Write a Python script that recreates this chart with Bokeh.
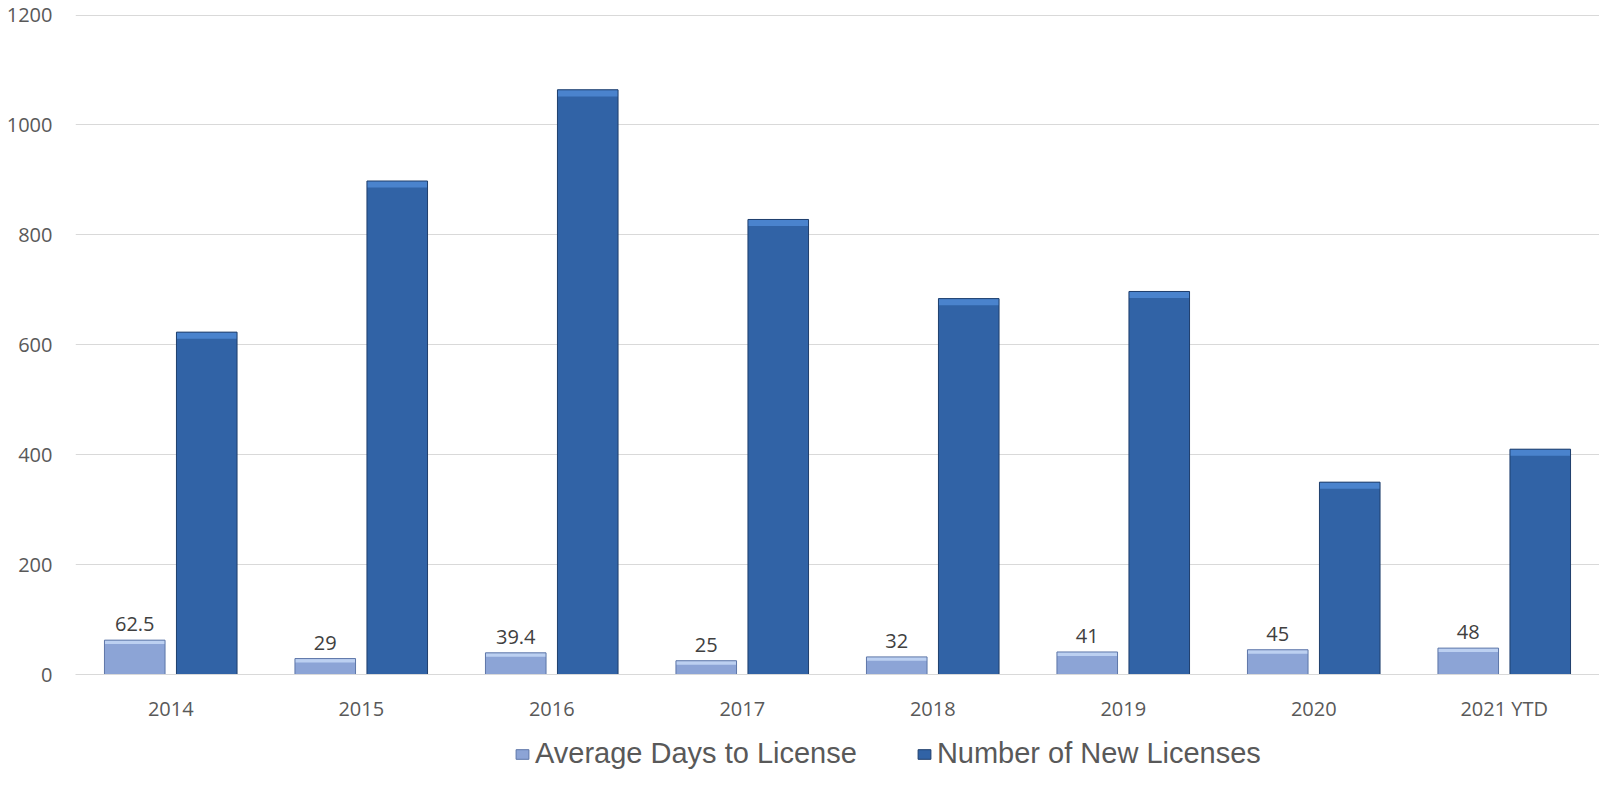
from bokeh.plotting import figure
from bokeh.models import ColumnDataSource, FactorRange, Legend, LegendItem
from bokeh.layouts import column
from bokeh.transform import dodge
from bokeh.embed import file_html
from bokeh.resources import INLINE
from bokeh.core.properties import value

categories = ["2014", "2015", "2016", "2017", "2018", "2019", "2020", "2021 YTD"]
avg_days = [62.5, 29, 39.4, 25, 32, 41, 45, 48]
new_licenses = [623, 898, 1064, 828, 684, 697, 350, 410]
avg_labels = ["62.5", "29", "39.4", "25", "32", "41", "45", "48"]

BEVEL = 12  # bevel highlight height in data units

AVG_FILL, AVG_TOP, AVG_LINE = "#8ca4d6", "#bcd0f1", "#5d76a8"
NEW_FILL, NEW_TOP, NEW_LINE = "#3163a6", "#4a83cd", "#1e3e6c"

src = ColumnDataSource(dict(
    cat=categories,
    avg=avg_days,
    new=new_licenses,
    lab=avg_labels,
    avg_b=[max(v - BEVEL * 0.6, 0) for v in avg_days],
    new_b=[v - BEVEL for v in new_licenses],
))

p = figure(x_range=FactorRange(*categories), y_range=(0, 1201),
           width=1599, height=729, output_backend="svg", toolbar_location=None,
           min_border_left=75, min_border_right=0, min_border_top=14, min_border_bottom=55)

w = 0.318
off = 0.189
xa = dodge("cat", -off, range=p.x_range)
xn = dodge("cat", off, range=p.x_range)
p.vbar(x=xa, top="avg", width=w, source=src, fill_color=AVG_FILL, line_color=None)
p.vbar(x=xa, top="avg", bottom="avg_b", width=w, source=src, fill_color=AVG_TOP, line_color=None)
p.vbar(x=xa, top="avg", width=w, source=src, fill_color=None, line_color=AVG_LINE, line_width=1)
p.vbar(x=xn, top="new", width=w, source=src, fill_color=NEW_FILL, line_color=None)
p.vbar(x=xn, top="new", bottom="new_b", width=w, source=src, fill_color=NEW_TOP, line_color=None)
p.vbar(x=xn, top="new", width=w, source=src, fill_color=None, line_color=NEW_LINE, line_width=1)

p.text(x=xa, y="avg", text="lab", source=src,
       text_align="center", text_baseline="alphabetic", y_offset=-16,
       text_font=value("Open Sans"), text_font_size="20px", text_color="#404040")

p.outline_line_color = None
p.xgrid.grid_line_color = None
p.ygrid.grid_line_color = "#d9d9d9"
p.ygrid.grid_line_width = 1
p.yaxis.ticker = [0, 200, 400, 600, 800, 1000, 1200]
p.yaxis.axis_line_color = None
p.yaxis.major_tick_line_color = None
p.yaxis.minor_tick_line_color = None
p.yaxis.major_tick_out = 0
p.yaxis.major_label_text_font = "Open Sans"
p.yaxis.major_label_text_font_size = "20px"
p.yaxis.major_label_text_color = "#595959"
p.yaxis.major_label_standoff = 23
p.xaxis.axis_line_color = "#d9d9d9"
p.xaxis.major_tick_line_color = None
p.xaxis.minor_tick_line_color = None
p.xaxis.major_tick_out = 0
p.xaxis.major_label_text_font = "Open Sans"
p.xaxis.major_label_text_font_size = "20px"
p.xaxis.major_label_text_color = "#595959"
p.xaxis.major_label_standoff = 20
p.x_range.range_padding = 0
p.x_range.group_padding = 0

# legend panel
lf = figure(width=1599, height=41, output_backend="svg", toolbar_location=None,
            x_axis_type=None, y_axis_type=None, min_border=0,
            x_range=(0, 1), y_range=(0, 1))
lf.outline_line_color = None
lf.grid.grid_line_color = None
offscreen = ColumnDataSource(dict(l=[-10], r=[-9], t=[-9], b=[-10]))
g1 = lf.quad(left="l", right="r", top="t", bottom="b", source=offscreen,
             fill_color=AVG_FILL, line_color=AVG_LINE)
g2 = lf.quad(left="l", right="r", top="t", bottom="b", source=offscreen,
             fill_color=NEW_FILL, line_color=NEW_LINE)
legend = Legend(items=[LegendItem(label="Average Days to License", renderers=[g1]),
                       LegendItem(label="Number of New Licenses", renderers=[g2])],
                orientation="horizontal", location=(439, 0),
                label_text_font="Liberation Sans", label_text_font_size="29px",
                label_text_color="#595959", glyph_width=16, glyph_height=12,
                label_height=26, spacing=59, label_standoff=5, border_line_color=None,
                background_fill_alpha=0, margin=0, padding=0)
lf.add_layout(legend, "center")

layout = column(p, lf, spacing=0)
open("out.html", "w").write(file_html(layout, INLINE))
